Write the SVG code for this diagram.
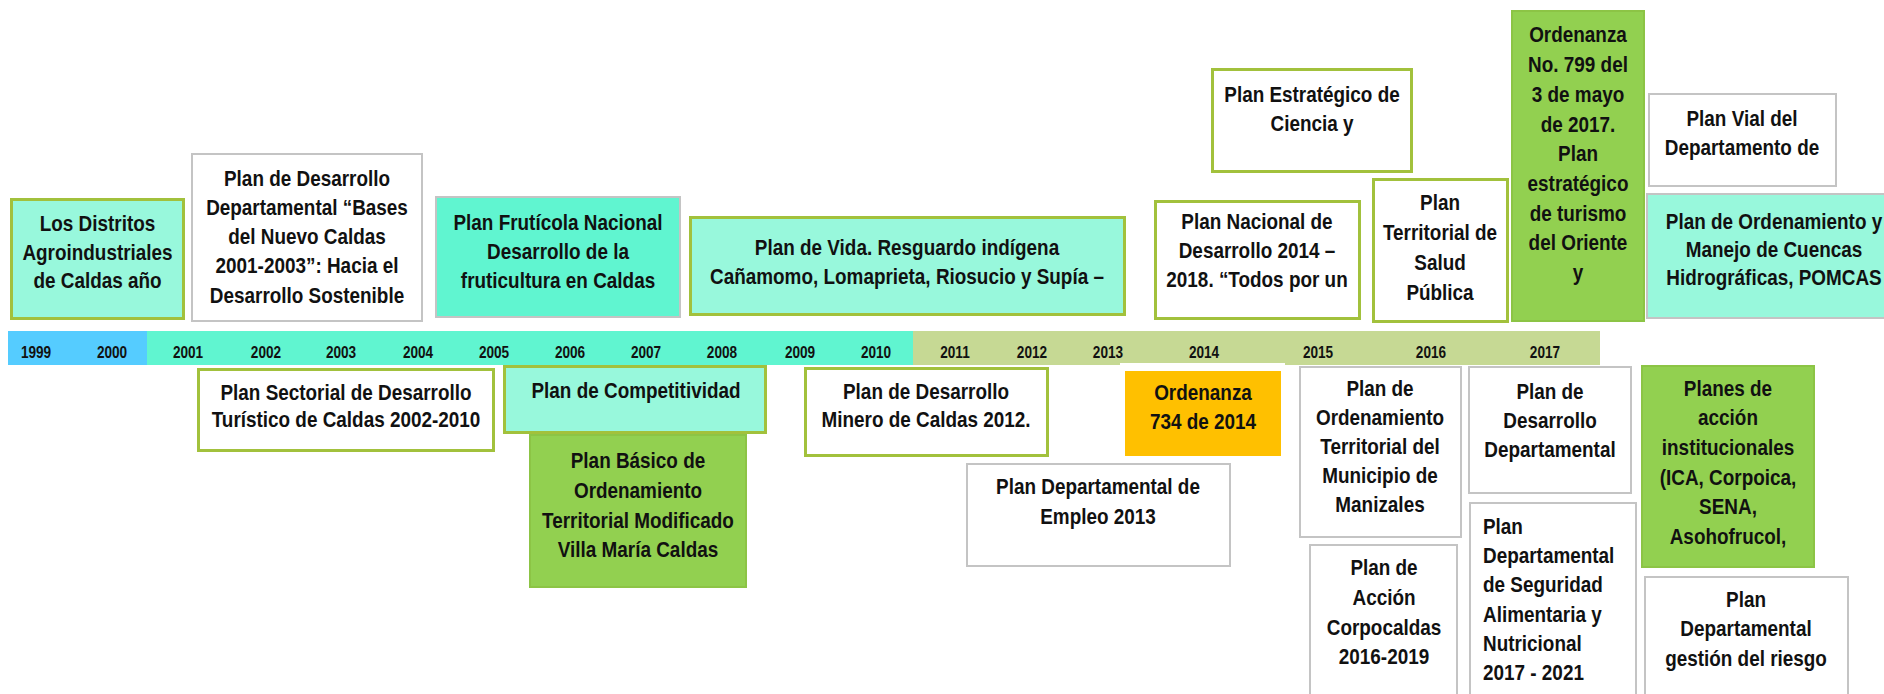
<svg xmlns="http://www.w3.org/2000/svg" width="1884" height="694" viewBox="0 0 1884 694">
<style>
.t{font-family:"Liberation Sans",Arial,sans-serif;font-weight:bold;font-size:22px;text-anchor:middle;fill:#111}
.ts{text-anchor:start}
.yr{font-family:"Liberation Sans",Arial,sans-serif;font-weight:bold;font-size:16px;text-anchor:middle;fill:#111}
.g{stroke:#a2c13c;stroke-width:3}
.gy{stroke:#c4c4c4;stroke-width:2}
.aqua{fill:#98f8dc}
.teal{fill:#60f5d0}
.white{fill:#ffffff}
.green{fill:#92d050;stroke:#8cc445;stroke-width:2}
</style>
<rect width="1884" height="694" fill="#ffffff"/>
<g id="timeline">
<rect x="8" y="331" width="139" height="34" fill="#55ccff"/>
<rect x="147" y="331" width="766" height="34" fill="#60f5d0"/>
<rect x="913" y="331" width="687" height="34" fill="#c6d994"/>
<text class="yr" transform="scale(0.85 1)"><tspan x="42.4" y="358">1999</tspan><tspan x="131.8" y="358">2000</tspan><tspan x="221.2" y="358">2001</tspan><tspan x="312.9" y="358">2002</tspan><tspan x="401.2" y="358">2003</tspan><tspan x="491.8" y="358">2004</tspan><tspan x="581.2" y="358">2005</tspan><tspan x="670.6" y="358">2006</tspan><tspan x="760" y="358">2007</tspan><tspan x="849.4" y="358">2008</tspan><tspan x="941.2" y="358">2009</tspan><tspan x="1030.6" y="358">2010</tspan><tspan x="1123.5" y="358">2011</tspan><tspan x="1214.1" y="358">2012</tspan><tspan x="1303.5" y="358">2013</tspan><tspan x="1416.5" y="358">2014</tspan><tspan x="1550.6" y="358">2015</tspan><tspan x="1683.5" y="358">2016</tspan><tspan x="1817.6" y="358">2017</tspan></text>
</g>
<g id="connectors"></g>
<g id="n1"><rect x="11.5" y="199.5" width="172" height="119" class="aqua g"/>
<text class="t" transform="translate(97.5 0) scale(0.86 1)"><tspan x="0" y="231">Los Distritos</tspan><tspan x="0" y="260">Agroindustriales</tspan><tspan x="0" y="288">de Caldas año</tspan></text></g>
<g id="n2"><rect x="192" y="154" width="230" height="167" class="white gy"/>
<text class="t" transform="translate(307 0) scale(0.86 1)"><tspan x="0" y="186">Plan de Desarrollo</tspan><tspan x="0" y="215">Departamental “Bases</tspan><tspan x="0" y="244">del Nuevo Caldas</tspan><tspan x="0" y="273">2001-2003”: Hacia el</tspan><tspan x="0" y="303">Desarrollo Sostenible</tspan></text></g>
<g id="n3"><rect x="436" y="197" width="244" height="120" class="teal gy"/>
<text class="t" transform="translate(558 0) scale(0.86 1)"><tspan x="0" y="230">Plan Frutícola Nacional</tspan><tspan x="0" y="259">Desarrollo de la</tspan><tspan x="0" y="288">fruticultura en Caldas</tspan></text></g>
<g id="n4"><rect x="690.5" y="217.5" width="434" height="97" class="aqua g"/>
<text class="t" transform="translate(907 0) scale(0.86 1)"><tspan x="0" y="255">Plan de Vida. Resguardo indígena</tspan><tspan x="0" y="284">Cañamomo, Lomaprieta, Riosucio y Supía –</tspan></text></g>
<g id="n5"><rect x="1155.5" y="201.5" width="204" height="117" class="white g"/>
<text class="t" transform="translate(1257 0) scale(0.86 1)"><tspan x="0" y="229">Plan Nacional de</tspan><tspan x="0" y="258">Desarrollo 2014 –</tspan><tspan x="0" y="287">2018. “Todos por un</tspan></text></g>
<g id="n6"><rect x="1212.5" y="69.5" width="199" height="102" class="white g"/>
<text class="t" transform="translate(1312 0) scale(0.86 1)"><tspan x="0" y="102">Plan Estratégico de</tspan><tspan x="0" y="131">Ciencia y</tspan></text></g>
<g id="n7"><rect x="1373.5" y="179.5" width="134" height="142" class="white g"/>
<text class="t" transform="translate(1440 0) scale(0.86 1)"><tspan x="0" y="210">Plan</tspan><tspan x="0" y="240">Territorial de</tspan><tspan x="0" y="270">Salud</tspan><tspan x="0" y="300">Pública</tspan></text></g>
<g id="n8"><rect x="1512" y="11" width="132" height="310" class="green"/>
<text class="t" transform="translate(1578 0) scale(0.86 1)"><tspan x="0" y="42">Ordenanza</tspan><tspan x="0" y="72">No. 799 del</tspan><tspan x="0" y="102">3 de mayo</tspan><tspan x="0" y="132">de 2017.</tspan><tspan x="0" y="161">Plan</tspan><tspan x="0" y="191">estratégico</tspan><tspan x="0" y="221">de turismo</tspan><tspan x="0" y="250">del Oriente</tspan><tspan x="0" y="280">y</tspan></text></g>
<g id="n9"><rect x="1649" y="94" width="187" height="92" class="white gy"/>
<text class="t" transform="translate(1742 0) scale(0.86 1)"><tspan x="0" y="126">Plan Vial del</tspan><tspan x="0" y="155">Departamento de</tspan></text></g>
<g id="n10"><rect x="1647" y="194" width="255" height="124" class="aqua gy"/>
<text class="t" transform="translate(1774 0) scale(0.86 1)"><tspan x="0" y="229">Plan de Ordenamiento y</tspan><tspan x="0" y="257">Manejo de Cuencas</tspan><tspan x="0" y="285">Hidrográficas, POMCAS</tspan></text></g>
<g id="n11"><rect x="198.5" y="369.5" width="295" height="81" class="white g"/>
<text class="t" transform="translate(346 0) scale(0.86 1)"><tspan x="0" y="400">Plan Sectorial de Desarrollo</tspan><tspan x="0" y="427">Turístico de Caldas 2002-2010</tspan></text></g>
<g id="n13"><rect x="530" y="435" width="216" height="152" class="green"/>
<text class="t" transform="translate(638 0) scale(0.86 1)"><tspan x="0" y="468">Plan Básico de</tspan><tspan x="0" y="498">Ordenamiento</tspan><tspan x="0" y="528">Territorial Modificado</tspan><tspan x="0" y="557">Villa María Caldas</tspan></text></g>
<g id="n12"><rect x="504.5" y="366.5" width="261" height="66" class="aqua g"/>
<text class="t" transform="translate(636 0) scale(0.86 1)"><tspan x="0" y="398">Plan de Competitividad</tspan></text></g>
<g id="n14"><rect x="805.5" y="368.5" width="242" height="87" class="white g"/>
<text class="t" transform="translate(926 0) scale(0.86 1)"><tspan x="0" y="399">Plan de Desarrollo</tspan><tspan x="0" y="427">Minero de Caldas 2012.</tspan></text></g>
<g id="n15"><rect x="1120" y="363" width="165" height="97" fill="#ffffff"/><rect x="1125" y="371" width="156" height="85" fill="#ffc000"/>
<text class="t" transform="translate(1203 0) scale(0.86 1)"><tspan x="0" y="400">Ordenanza</tspan><tspan x="0" y="429">734 de 2014</tspan></text></g>
<g id="n16"><rect x="967" y="464" width="263" height="102" class="white gy"/>
<text class="t" transform="translate(1098 0) scale(0.86 1)"><tspan x="0" y="494">Plan Departamental de</tspan><tspan x="0" y="524">Empleo 2013</tspan></text></g>
<g id="n17"><rect x="1300" y="367" width="161" height="170" class="white gy"/>
<text class="t" transform="translate(1380 0) scale(0.86 1)"><tspan x="0" y="396">Plan de</tspan><tspan x="0" y="425">Ordenamiento</tspan><tspan x="0" y="454">Territorial del</tspan><tspan x="0" y="483">Municipio de</tspan><tspan x="0" y="512">Manizales</tspan></text></g>
<g id="n18"><rect x="1310" y="545" width="147" height="155" class="white gy"/>
<text class="t" transform="translate(1384 0) scale(0.86 1)"><tspan x="0" y="575">Plan de</tspan><tspan x="0" y="605">Acción</tspan><tspan x="0" y="635">Corpocaldas</tspan><tspan x="0" y="664">2016-2019</tspan></text></g>
<g id="n19"><rect x="1469" y="367" width="162" height="126" class="white gy"/>
<text class="t" transform="translate(1550 0) scale(0.86 1)"><tspan x="0" y="399">Plan de</tspan><tspan x="0" y="428">Desarrollo</tspan><tspan x="0" y="457">Departamental</tspan></text></g>
<g id="n20"><rect x="1470" y="503" width="166" height="200" class="white gy"/>
<text class="t ts" transform="translate(1483 0) scale(0.86 1)"><tspan x="0" y="534">Plan</tspan><tspan x="0" y="563">Departamental</tspan><tspan x="0" y="592">de Seguridad</tspan><tspan x="0" y="622">Alimentaria y</tspan><tspan x="0" y="651">Nutricional</tspan><tspan x="0" y="680">2017 - 2021</tspan></text></g>
<g id="n21"><rect x="1642" y="366" width="172" height="201" class="green"/>
<text class="t" transform="translate(1728 0) scale(0.86 1)"><tspan x="0" y="396">Planes de</tspan><tspan x="0" y="425">acción</tspan><tspan x="0" y="455">institucionales</tspan><tspan x="0" y="485">(ICA, Corpoica,</tspan><tspan x="0" y="514">SENA,</tspan><tspan x="0" y="544">Asohofrucol,</tspan></text></g>
<g id="n22"><rect x="1645" y="577" width="203" height="130" class="white gy"/>
<text class="t" transform="translate(1746 0) scale(0.86 1)"><tspan x="0" y="607">Plan</tspan><tspan x="0" y="636">Departamental</tspan><tspan x="0" y="666">gestión del riesgo</tspan></text></g>
</svg>
